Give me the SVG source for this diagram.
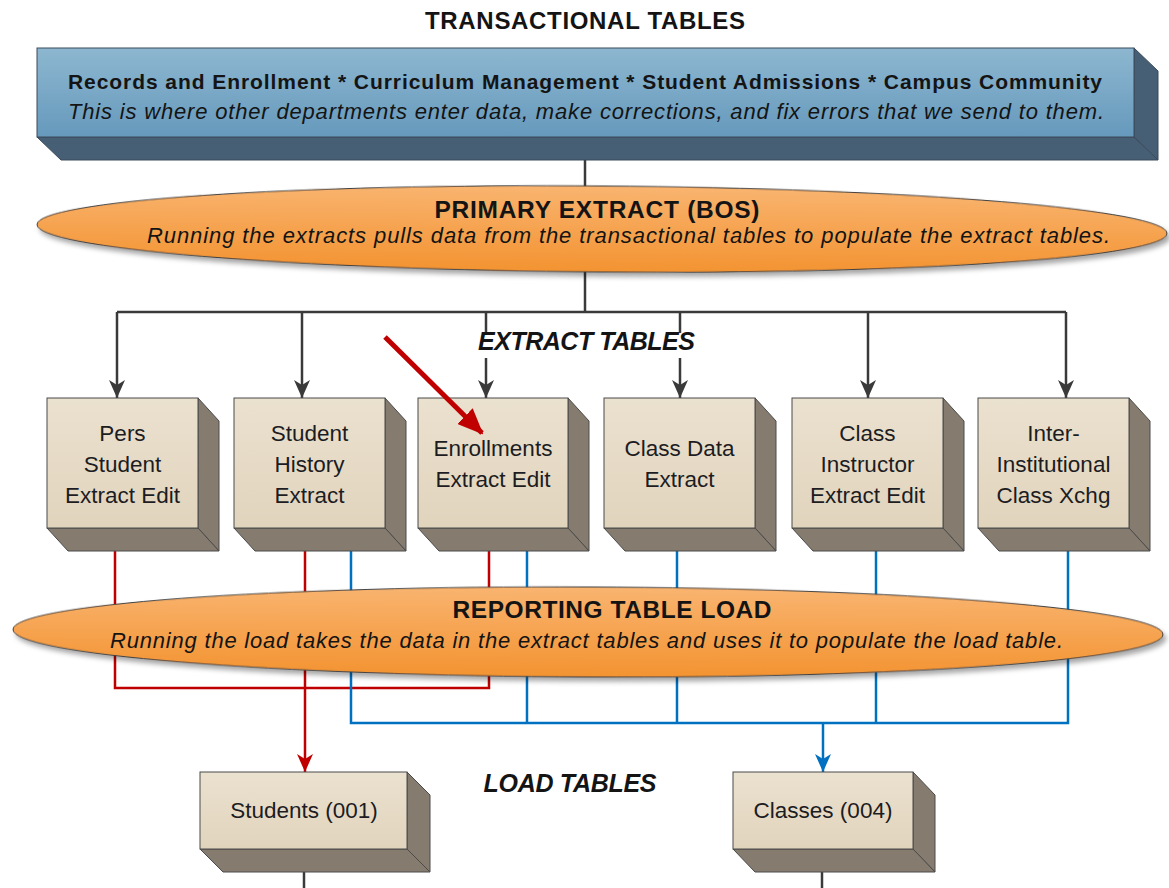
<svg xmlns="http://www.w3.org/2000/svg" width="1169" height="888" viewBox="0 0 1169 888">
<defs>
<style>
text{font-family:"Liberation Sans",Arial,sans-serif;fill:#141414}
.b{font-weight:bold}
.i{font-style:italic}
.bi{font-weight:bold;font-style:italic}
.bx{font-size:22.5px;text-anchor:middle;fill:#1c1c22}
.front{fill:url(#gFront);stroke:#4a4a4a;stroke-width:1}
.face{fill:#857c6f;stroke:#4a4a4a;stroke-width:1}
.k{fill:none;stroke:#3a3a3a;stroke-width:2.5}
.r{fill:none;stroke:#c00000;stroke-width:2.5}
.u{fill:none;stroke:#0070c0;stroke-width:2.5}
.ell{fill:url(#gOrange);stroke:#3d3d3d;stroke-width:1}
</style>
<linearGradient id="gFront" x1="0" y1="0" x2="0" y2="1">
<stop offset="0" stop-color="#ebe1cf"/><stop offset="1" stop-color="#e1d4bd"/>
</linearGradient>
<linearGradient id="gBlue" x1="0" y1="0" x2="0" y2="1">
<stop offset="0" stop-color="#8db7d0"/><stop offset="1" stop-color="#6699bc"/>
</linearGradient>
<linearGradient id="gOrange" x1="0" y1="0" x2="0" y2="1">
<stop offset="0" stop-color="#f9b470"/><stop offset="1" stop-color="#f39331"/>
</linearGradient>
<filter id="sh" x="-5%" y="-30%" width="110%" height="170%">
<feDropShadow dx="3" dy="4" stdDeviation="2.5" flood-color="#000" flood-opacity="0.35"/>
</filter>
<marker id="ak" markerUnits="userSpaceOnUse" viewBox="0 0 18 16" refX="18" refY="8" markerWidth="18" markerHeight="16" orient="auto">
<path d="M0,0 L18,8 L0,16 L5,8 Z" fill="#3a3a3a"/>
</marker>
<marker id="ar" markerUnits="userSpaceOnUse" viewBox="0 0 18 16" refX="18" refY="8" markerWidth="18" markerHeight="16" orient="auto">
<path d="M0,0 L18,8 L0,16 L5,8 Z" fill="#c00000"/>
</marker>
<marker id="au" markerUnits="userSpaceOnUse" viewBox="0 0 18 16" refX="18" refY="8" markerWidth="18" markerHeight="16" orient="auto">
<path d="M0,0 L18,8 L0,16 L5,8 Z" fill="#0070c0"/>
</marker>
<marker id="abig" markerUnits="userSpaceOnUse" viewBox="0 0 26 22" refX="24" refY="11" markerWidth="26" markerHeight="22" orient="auto">
<path d="M0,0 L26,11 L0,22 Z" fill="#c00000"/>
</marker>
</defs>

<text id="title" class="b" x="585" y="29" font-size="24" text-anchor="middle" textLength="320">TRANSACTIONAL TABLES</text>

<g id="connectors">
<path class="k" d="M585,160 V200"/>
<path class="k" d="M585,262 V312"/>
<path class="k" d="M117,312 H1066"/>
<path class="k" d="M117,312 V398" marker-end="url(#ak)"/>
<path class="k" d="M302,312 V398" marker-end="url(#ak)"/>
<path class="k" d="M486,312 V333"/>
<path class="k" d="M486,358 V398" marker-end="url(#ak)"/>
<path class="k" d="M680,312 V333"/>
<path class="k" d="M680,358 V398" marker-end="url(#ak)"/>
<path class="k" d="M868,312 V398" marker-end="url(#ak)"/>
<path class="k" d="M1066,312 V398" marker-end="url(#ak)"/>
<path class="r" d="M115,551 V688 H489 V551"/>
<path class="r" d="M305,551 V772" marker-end="url(#ar)"/>
<path class="u" d="M351,551 V723 H1068 V551"/>
<path class="u" d="M527,551 V723"/>
<path class="u" d="M677,551 V723"/>
<path class="u" d="M876,551 V723"/>
<path class="u" d="M823,723 V772" stroke-width="4" marker-end="url(#au)"/>
<path class="k" d="M304,872 V888"/>
<path class="k" d="M822,872 V888"/>
</g>

<g id="transactional">
<polygon fill="#475f75" stroke="#3a4a5a" stroke-width="1" points="1134,48 1158,71 1158,160 1134,137"/>
<polygon fill="#475f75" stroke="#3a4a5a" stroke-width="1" points="37,137 1134,137 1158,160 61,160"/>
<rect x="37" y="48" width="1097" height="89" fill="url(#gBlue)" stroke="#3a4a5a" stroke-width="1"/>
<text class="b" x="585" y="89" font-size="21" text-anchor="middle" textLength="1034">Records and Enrollment * Curriculum Management * Student Admissions * Campus Community</text>
<text class="i" x="586" y="119" font-size="22" text-anchor="middle" textLength="1036">This is where other departments enter data, make corrections, and fix errors that we send to them.</text>
</g>

<g id="primary-extract">
<ellipse class="ell" filter="url(#sh)" cx="602" cy="229" rx="565" ry="43" transform="rotate(0.45 602 229)"/>
<text class="b" x="597" y="218" font-size="24.5" text-anchor="middle" textLength="325">PRIMARY EXTRACT (BOS)</text>
<text class="i" x="628.5" y="243" font-size="22" text-anchor="middle" textLength="963">Running the extracts pulls data from the transactional tables to populate the extract tables.</text>
</g>

<text id="extract-tables" class="bi" x="586.5" y="350" font-size="25" text-anchor="middle" textLength="217">EXTRACT TABLES</text>

<g id="pers-student">
<polygon class="face" points="198,398 219,421 219,551 198,528"/>
<polygon class="face" points="47,528 198,528 219,551 68,551"/>
<rect class="front" x="47" y="398" width="151" height="130"/>
<text class="bx" x="122.5" y="441">Pers</text>
<text class="bx" x="122.5" y="472">Student</text>
<text class="bx" x="122.5" y="503">Extract Edit</text>
</g>

<g id="student-history">
<polygon class="face" points="385,398 406,421 406,551 385,528"/>
<polygon class="face" points="234,528 385,528 406,551 255,551"/>
<rect class="front" x="234" y="398" width="151" height="130"/>
<text class="bx" x="309.5" y="441">Student</text>
<text class="bx" x="309.5" y="472">History</text>
<text class="bx" x="309.5" y="503">Extract</text>
</g>

<g id="enrollments">
<polygon class="face" points="568,398 589,421 589,551 568,528"/>
<polygon class="face" points="418,528 568,528 589,551 439,551"/>
<rect class="front" x="418" y="398" width="150" height="130"/>
<text class="bx" x="493" y="456">Enrollments</text>
<text class="bx" x="493" y="487">Extract Edit</text>
</g>

<g id="class-data">
<polygon class="face" points="755,398 776,421 776,551 755,528"/>
<polygon class="face" points="604,528 755,528 776,551 625,551"/>
<rect class="front" x="604" y="398" width="151" height="130"/>
<text class="bx" x="679.5" y="456">Class Data</text>
<text class="bx" x="679.5" y="487">Extract</text>
</g>

<g id="class-instructor">
<polygon class="face" points="943,398 964,421 964,551 943,528"/>
<polygon class="face" points="792,528 943,528 964,551 813,551"/>
<rect class="front" x="792" y="398" width="151" height="130"/>
<text class="bx" x="867.5" y="441">Class</text>
<text class="bx" x="867.5" y="472">Instructor</text>
<text class="bx" x="867.5" y="503">Extract Edit</text>
</g>

<g id="inter-institutional">
<polygon class="face" points="1129,398 1150,421 1150,551 1129,528"/>
<polygon class="face" points="978,528 1129,528 1150,551 999,551"/>
<rect class="front" x="978" y="398" width="151" height="130"/>
<text class="bx" x="1053.5" y="441">Inter-</text>
<text class="bx" x="1053.5" y="472">Institutional</text>
<text class="bx" x="1053.5" y="503">Class Xchg</text>
</g>

<g id="reporting-load">
<ellipse class="ell" filter="url(#sh)" cx="588" cy="632" rx="575" ry="45" transform="rotate(0.25 588 632)"/>
<text class="b" x="612" y="618" font-size="24.5" text-anchor="middle" textLength="319">REPORTING TABLE LOAD</text>
<text class="i" x="586.5" y="648" font-size="22" text-anchor="middle" textLength="953">Running the load takes the data in the extract tables and uses it to populate the load table.</text>
</g>

<text id="load-tables" class="bi" x="570" y="792" font-size="25" text-anchor="middle" textLength="173">LOAD TABLES</text>

<g id="students">
<polygon class="face" points="407,772 430,795 430,872 407,849"/>
<polygon class="face" points="200,849 407,849 430,872 223,872"/>
<rect class="front" x="200" y="772" width="207" height="77"/>
<text class="bx" x="304" y="818">Students (001)</text>
</g>

<g id="classes">
<polygon class="face" points="913,772 935,795 935,872 913,849"/>
<polygon class="face" points="733,849 913,849 935,872 755,872"/>
<rect class="front" x="733" y="772" width="180" height="77"/>
<text class="bx" x="823" y="818">Classes (004)</text>
</g>

<g id="annotation">
<path d="M385,337 L482,433" stroke="#c00000" stroke-width="5" fill="none" marker-end="url(#abig)"/>
</g>
</svg>
